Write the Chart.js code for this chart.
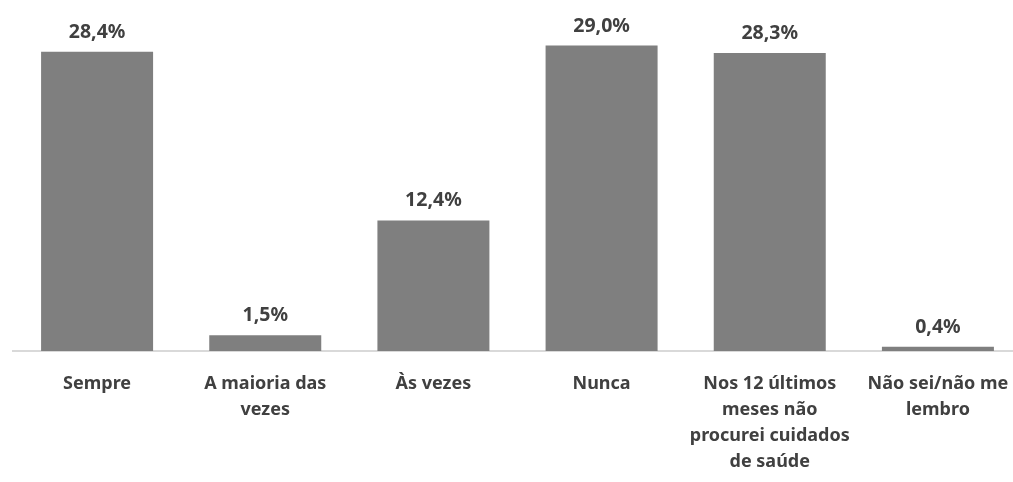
<!DOCTYPE html>
<html>
<head>
<meta charset="utf-8">
<script src="https://cdn.jsdelivr.net/npm/chart.js@4"></script>
<style>
  html, body { margin: 0; padding: 0; background: #fff; overflow: hidden; }
  #wrap { width: 1022px; height: 482px; }
</style>
</head>
<body>
<div id="wrap"><canvas id="chartCanvas"></canvas></div>
<script>
const categories = [
    'Sempre',
    ['A maioria das', 'vezes'],
    'Às vezes',
    'Nunca',
    ['Nos 12 últimos', 'meses não', 'procurei cuidados', 'de saúde'],
    ['Não sei/não me', 'lembro']
];
const values = [28.4, 1.5, 12.4, 29.0, 28.3, 0.4];

const fontFamily = "'Noto Sans', 'Open Sans', sans-serif";
const textColor = '#404040';

// Draw the percentage above each bar
const valueLabels = {
    id: 'valueLabels',
    afterDatasetsDraw(chart) {
        const ctx = chart.ctx;
        const meta = chart.getDatasetMeta(0);
        ctx.save();
        ctx.font = 'bold 19.5px ' + fontFamily;
        ctx.fillStyle = textColor;
        ctx.textAlign = 'center';
        ctx.textBaseline = 'alphabetic';
        meta.data.forEach((bar, i) => {
            const txt = values[i].toFixed(1).replace('.', ',') + '%';
            ctx.fillText(txt, bar.x, bar.y - 14);
        });
        ctx.restore();
    }
};

const ctx = document.getElementById('chartCanvas').getContext('2d');
window.myChart = new Chart(ctx, {
    type: 'bar',
    data: {
        labels: categories,
        datasets: [{
            label: 'Data',
            data: values,
            backgroundColor: '#7f7f7f',
            borderWidth: 0,
            barPercentage: 0.666,
            categoryPercentage: 1
        }]
    },
    options: {
        responsive: true,
        maintainAspectRatio: false,
        animation: false,
        layout: { padding: { top: 35, left: 13, right: 0, bottom: 0 } },
        plugins: {
            legend: { display: false },
            tooltip: { enabled: false }
        },
        scales: {
            x: {
                grid: { display: false },
                border: { color: '#d9d9d9', width: 2 },
                ticks: {
                    color: textColor,
                    font: { family: fontFamily, size: 18, weight: 'bold', lineHeight: 1.445 },
                    padding: 12,
                    maxRotation: 0,
                    autoSkip: false
                },
                afterFit(scale) { scale.height = 131; }
            },
            y: {
                display: false,
                min: 0,
                max: 30
            }
        }
    },
    plugins: [valueLabels]
});
</script>
</body>
</html>
